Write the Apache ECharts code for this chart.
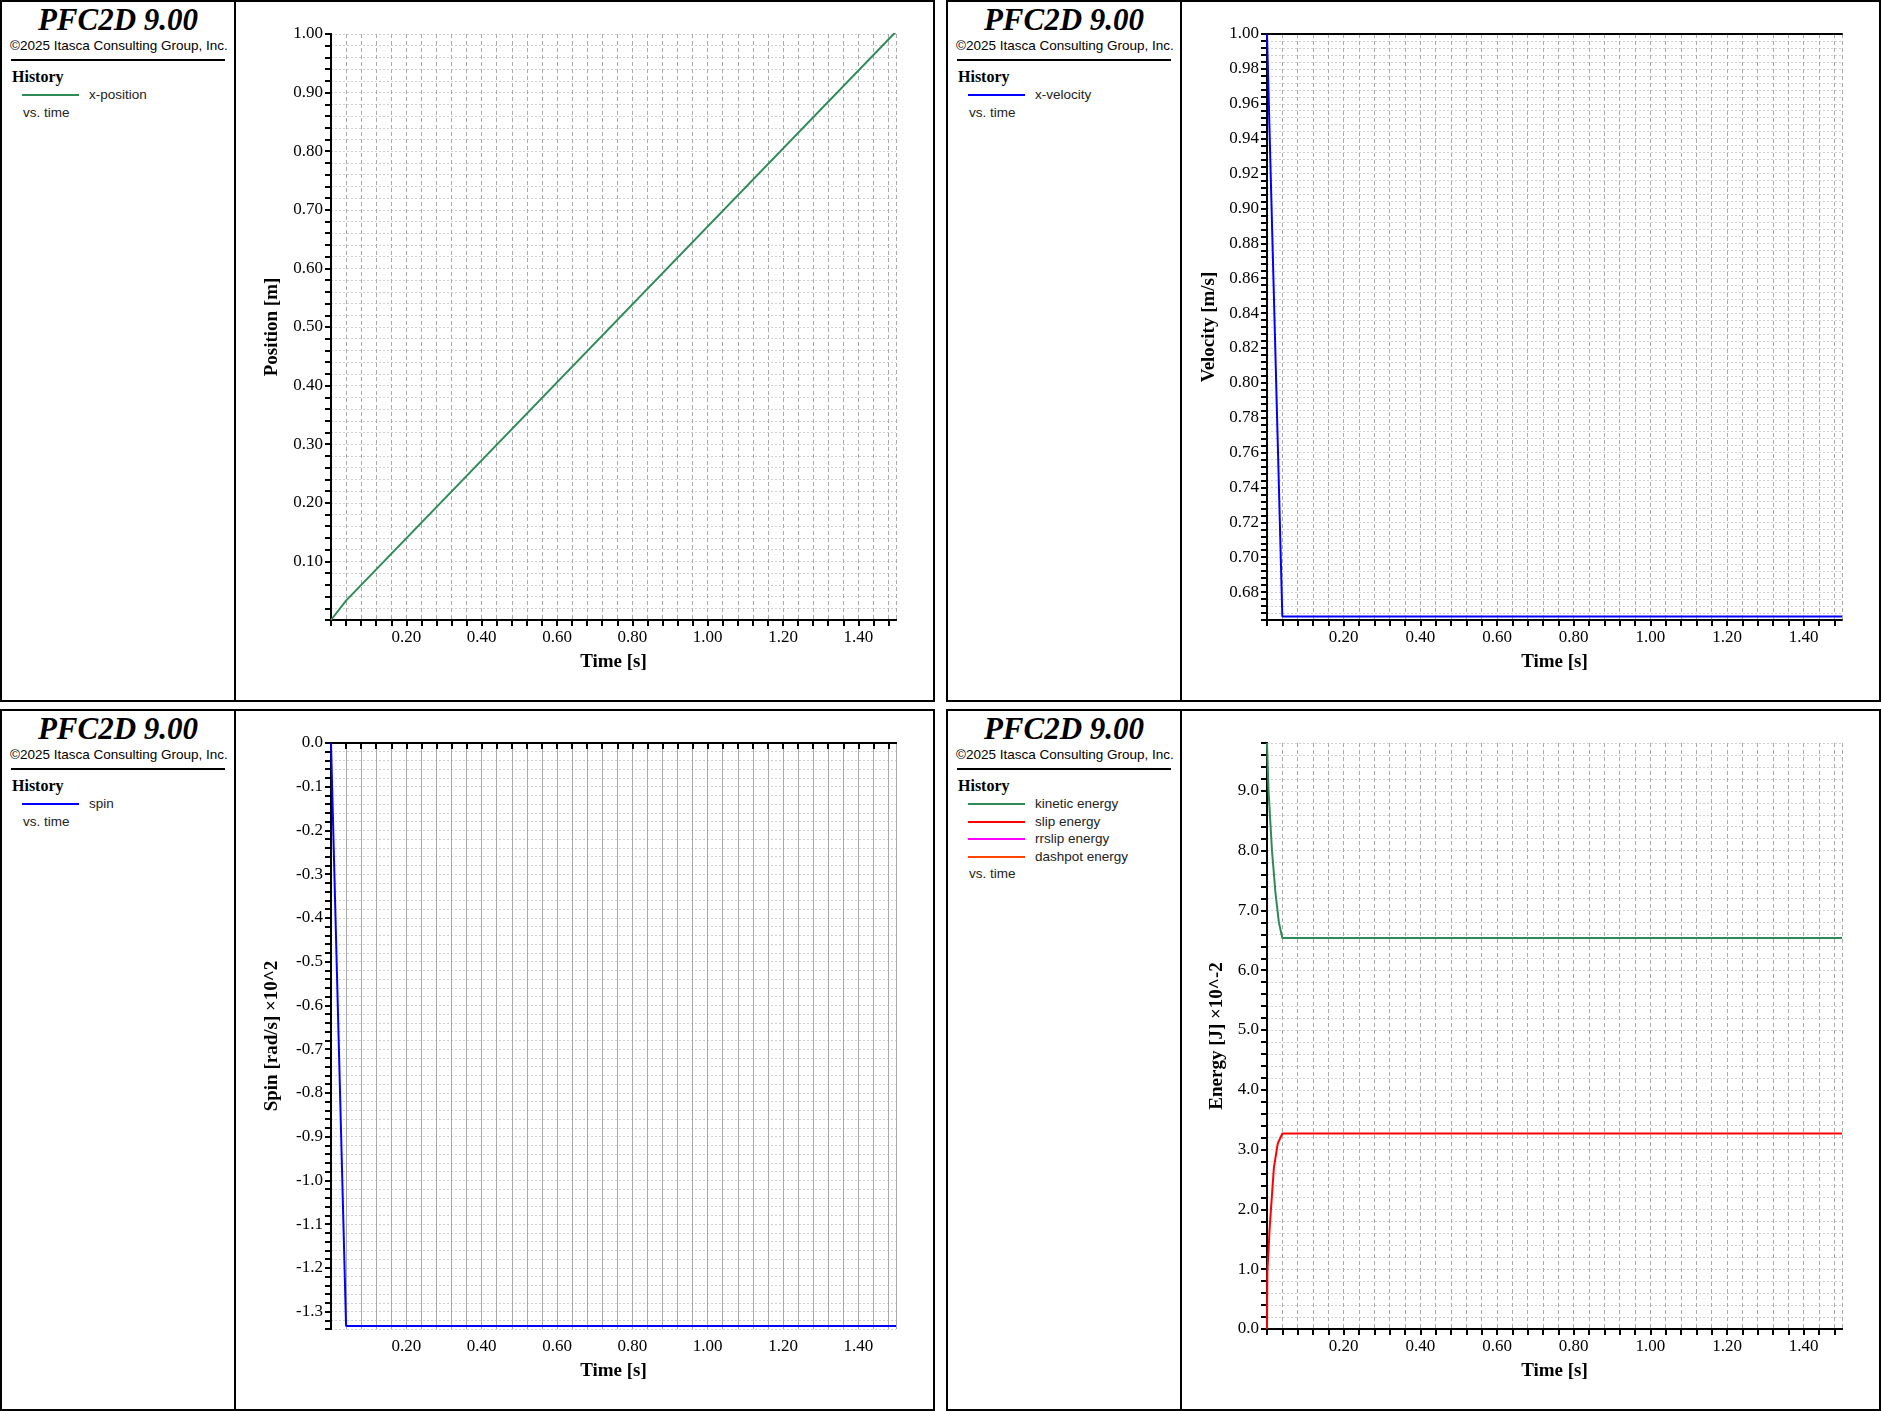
<!DOCTYPE html>
<html>
<head>
<meta charset="utf-8">
<script src="https://cdn.jsdelivr.net/npm/echarts@6/dist/echarts.min.js"></script>
<style>
  body { margin: 0; background: #fff; width: 1881px; height: 1411px; position: relative; overflow: hidden; }
  .panel { position: absolute; box-sizing: border-box; border: 2px solid #000; }
  .info { position: absolute; left: 0; top: 0; width: 234px; height: 100%; box-sizing: border-box; border-right: 2px solid #000; }
  .title { font-family: "Liberation Serif"; font-style: italic; font-weight: bold; font-size: 31px; text-align: center; margin-top: 0px; }
  .copy { font-family: "Liberation Sans"; font-size: 13.5px; margin: 0 0 0 8px; }
  .rule { border-top: 2px solid #000; margin: 6px 9px 0 9px; }
  .hist { font-family: "Liberation Serif"; font-weight: bold; font-size: 16px; margin: 7px 0 0 10px; }
  .leg { font-family: "Liberation Sans"; font-size: 13.5px; color: #222; margin-left: 20px; height: 17.5px; line-height: 17.5px; }
  .leg span { display: inline-block; width: 57px; height: 2px; vertical-align: middle; margin-right: 10px; }
  .vs { font-family: "Liberation Sans"; font-size: 13.5px; color: #222; margin-left: 21px; line-height: 17.5px; }
  .chart { position: absolute; left: 234px; top: 0; right: 0; bottom: 0; }
</style>
</head>
<body>
<script>
// time axis [s]
const posTime = [0, 0.04, 1.5];
const posValue = [0.0, 0.033, 1.004];

const velTime = [0, 0.04, 1.5];
const velValue = [1.0, 0.666, 0.666];

const spinTime = [0, 0.04, 1.5];
const spinValue = [0, -1.333, -1.333];

const keTime = [0, 0.004, 0.013, 0.022, 0.031, 0.04, 1.5];
const keValue = [9.8, 9.0, 8.0, 7.3, 6.8, 6.54, 6.54];
const slipTime = [0, 0.001, 0.007, 0.018, 0.028, 0.04, 1.5];
const slipValue = [0, 0.95, 1.7, 2.7, 3.1, 3.27, 3.27];

const panels = [
  { x: 0, y: 0, gl: 95, legend: [['x-position', '#2e8b57']] },
  { x: 946, y: 0, gl: 85, legend: [['x-velocity', '#0000ff']] },
  { x: 0, y: 709, gl: 95, legend: [['spin', '#0000ff']] },
  { x: 946, y: 709, gl: 85, legend: [['kinetic energy', '#2e8b57'], ['slip energy', '#ff0000'], ['rrslip energy', '#ff00ff'], ['dashpot energy', '#ff4500']] }
];

const near = (v, step) => Math.abs(v / step - Math.round(v / step)) < 1e-6;
const pairs = (xs, ys) => xs.map((x, i) => [x, ys[i]]);

function xAxisOpt(solid) {
  return {
    type: 'value', min: 0, max: 1.5, interval: 0.04,
    name: 'Time [s]', nameLocation: 'middle', nameGap: 33,
    nameTextStyle: { fontFamily: 'Liberation Serif', fontWeight: 'bold', fontSize: 19, color: '#000' },
    axisLine: { lineStyle: { color: '#000', width: 2 } },
    axisTick: { length: 6, lineStyle: { color: '#000', width: 2 } },
    axisLabel: {
      fontFamily: 'Liberation Serif', fontSize: 17, color: '#000', margin: 9,
      showMaxLabel: false,
      formatter: v => (v > 0 && near(v, 0.2)) ? v.toFixed(2) : ''
    },
    splitLine: { show: true, lineStyle: solid ? { color: '#aaa', width: 1 } : { color: '#aaa', type: [4, 3], width: 1 } }
  };
}

function yAxisOpt(name, min, max, step, labelStep, digits, gap, showMin) {
  return {
    type: 'value', min: min, max: max, interval: step,
    name: name, nameLocation: 'middle', nameGap: gap,
    nameTextStyle: { fontFamily: 'Liberation Serif', fontWeight: 'bold', fontSize: 19, color: '#000' },
    axisLine: { lineStyle: { color: '#000', width: 2 } },
    axisTick: { length: 6, lineStyle: { color: '#000', width: 2 } },
    axisLabel: {
      fontFamily: 'Liberation Serif', fontSize: 17, color: '#000', margin: 8,
      formatter: v => ((showMin || v > min + 1e-9) && near(v, labelStep)) ? v.toFixed(digits) : ''
    },
    splitLine: { show: true, lineStyle: { color: '#d0d0d0', type: [2, 2], width: 1 } }
  };
}

function line(data, color) {
  return { type: 'line', data: data, showSymbol: false, lineStyle: { color: color, width: 2 }, animation: false };
}

const specs = [
  { x: xAxisOpt(false), y: yAxisOpt('Position [m]', 0, 1.0, 0.02, 0.1, 2, 49, false), s: [line(pairs(posTime, posValue), '#2e8b57')] },
  { x: xAxisOpt(false), y: yAxisOpt('Velocity [m/s]', 0.664, 1.0, 0.004, 0.02, 2, 42, false), s: [line(pairs(velTime, velValue), '#0000ff')] },
  { x: xAxisOpt(true), y: yAxisOpt('Spin [rad/s] \u00d710^2', -1.34, 0, 0.02, 0.1, 1, 49, false), s: [line(pairs(spinTime, spinValue), '#0000ff')] },
  { x: xAxisOpt(false), y: yAxisOpt('Energy [J] \u00d710^-2', 0, 9.8, 0.2, 1.0, 1, 40, true), s: [line(pairs(keTime, keValue), '#2e8b57'), line(pairs(slipTime, slipValue), '#ff0000')] }
];

panels.forEach((p, i) => {
  const div = document.createElement('div');
  div.className = 'panel';
  Object.assign(div.style, { left: p.x + 'px', top: p.y + 'px', width: '935px', height: '702px' });
  let html = '<div class="info"><div class="title">PFC2D 9.00</div>' +
    '<div class="copy">\u00a92025 Itasca Consulting Group, Inc.</div><div class="rule"></div>' +
    '<div class="hist">History</div>';
  p.legend.forEach(l => { html += '<div class="leg"><span style="background:' + l[1] + '"></span>' + l[0] + '</div>'; });
  html += '<div class="vs">vs. time</div></div><div class="chart"></div>';
  div.innerHTML = html;
  document.body.appendChild(div);
  const chart = echarts.init(div.querySelector('.chart'));
  const sp = specs[i];
  chart.setOption({
    animation: false,
    grid: { left: p.gl, right: 37, top: 32, bottom: 80 },
    xAxis: [sp.x, { type: 'value', position: 'top', min: 0, max: 1.5, axisLine: { lineStyle: { color: '#000', width: 2 } }, axisTick: { show: false }, axisLabel: { show: false }, splitLine: { show: false } }],
    yAxis: [sp.y, { type: 'value', position: 'right', min: sp.y.min, max: sp.y.max, axisLine: { show: true, lineStyle: { color: '#000', width: 2 } }, axisTick: { show: false }, axisLabel: { show: false }, splitLine: { show: false } }],
    series: sp.s
  });
});
</script>
</body>
</html>
